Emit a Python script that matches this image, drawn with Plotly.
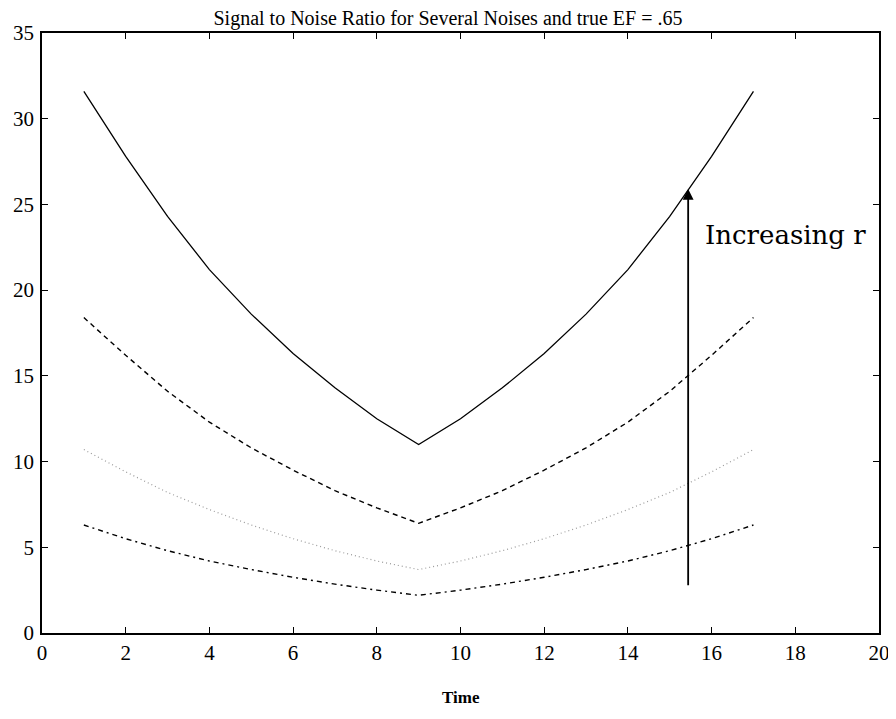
import plotly.graph_objects as go

# time points
t = list(range(1, 18))

# signal to noise ratio, one list per noise level
snr_solid = [31.6, 27.8, 24.3, 21.2, 18.6, 16.3, 14.3, 12.5, 11.0,
             12.5, 14.3, 16.3, 18.6, 21.2, 24.3, 27.8, 31.6]
snr_dash = [18.4, 16.2, 14.1, 12.3, 10.8, 9.5, 8.3, 7.3, 6.4,
            7.3, 8.3, 9.5, 10.8, 12.3, 14.1, 16.2, 18.4]
snr_dot = [10.7, 9.4, 8.2, 7.2, 6.3, 5.5, 4.8, 4.2, 3.7,
           4.2, 4.8, 5.5, 6.3, 7.2, 8.2, 9.4, 10.7]
snr_dashdot = [6.3, 5.5, 4.8, 4.2, 3.7, 3.25, 2.85, 2.5, 2.2,
               2.5, 2.85, 3.25, 3.7, 4.2, 4.8, 5.5, 6.3]

# arrow showing direction of increasing r
arrow_x = 15.44
arrow_y0, arrow_y1 = 2.7, 25.9

serif = "Liberation Serif, Times New Roman, serif"

fig = go.Figure()
fig.add_trace(go.Scatter(x=t, y=snr_solid, mode="lines",
                         line=dict(color="black", width=1.3)))
fig.add_trace(go.Scatter(x=t, y=snr_dash, mode="lines",
                         line=dict(color="black", width=1.4, dash="5px,4px")))
fig.add_trace(go.Scatter(x=t, y=snr_dot, mode="lines",
                         line=dict(color="#9a9a9a", width=1.2, dash="1px,3px")))
fig.add_trace(go.Scatter(x=t, y=snr_dashdot, mode="lines",
                         line=dict(color="black", width=1.4, dash="5px,4px,2px,4px")))

# arrow
fig.add_annotation(x=arrow_x, y=arrow_y1, ax=arrow_x, ay=arrow_y0,
                   xref="x", yref="y", axref="x", ayref="y",
                   showarrow=True, arrowhead=2, arrowsize=1.2,
                   arrowwidth=1.8, arrowcolor="black", text="")
fig.add_annotation(x=15.8, y=23.2, xref="x", yref="y", text="Increasing r",
                   showarrow=False, xanchor="left", yanchor="middle",
                   font=dict(family="DejaVu Serif, serif", size=26, color="black"))

# x axis label
fig.add_annotation(x=0.5, y=-0.108, xref="paper", yref="paper", text="<b>Time</b>",
                   showarrow=False, xanchor="center", yanchor="middle",
                   font=dict(family=serif, size=17, color="black"))

fig.update_xaxes(range=[0, 20], dtick=2, tick0=0, automargin=False,
                 ticklabeloverflow="allow",
                 showline=True, linecolor="black", linewidth=1.5, mirror="ticks",
                 ticks="inside", ticklen=6, tickcolor="black",
                 showgrid=False, zeroline=False,
                 tickfont=dict(family=serif, size=21, color="black"))
fig.update_yaxes(range=[0, 35], dtick=5, tick0=0, automargin=False,
                 ticklabeloverflow="allow",
                 showline=True, linecolor="black", linewidth=1.5, mirror="ticks",
                 ticks="inside", ticklen=6, tickcolor="black",
                 showgrid=False, zeroline=False, ticklabelstandoff=2,
                 tickfont=dict(family=serif, size=21, color="black"))

# page body adds 8px margin, so the figure is a bit smaller than the window
fig.update_layout(
    width=880, height=703, autosize=False,
    plot_bgcolor="white", paper_bgcolor="white",
    showlegend=False,
    margin=dict(l=34, r=9, t=25, b=78),
    title=dict(text="Signal to Noise Ratio for Several Noises and true EF = .65",
               x=0.5, xanchor="center", y=0.996, yanchor="top",
               font=dict(family=serif, size=20, color="black")),
)

fig.write_html("out.html")
